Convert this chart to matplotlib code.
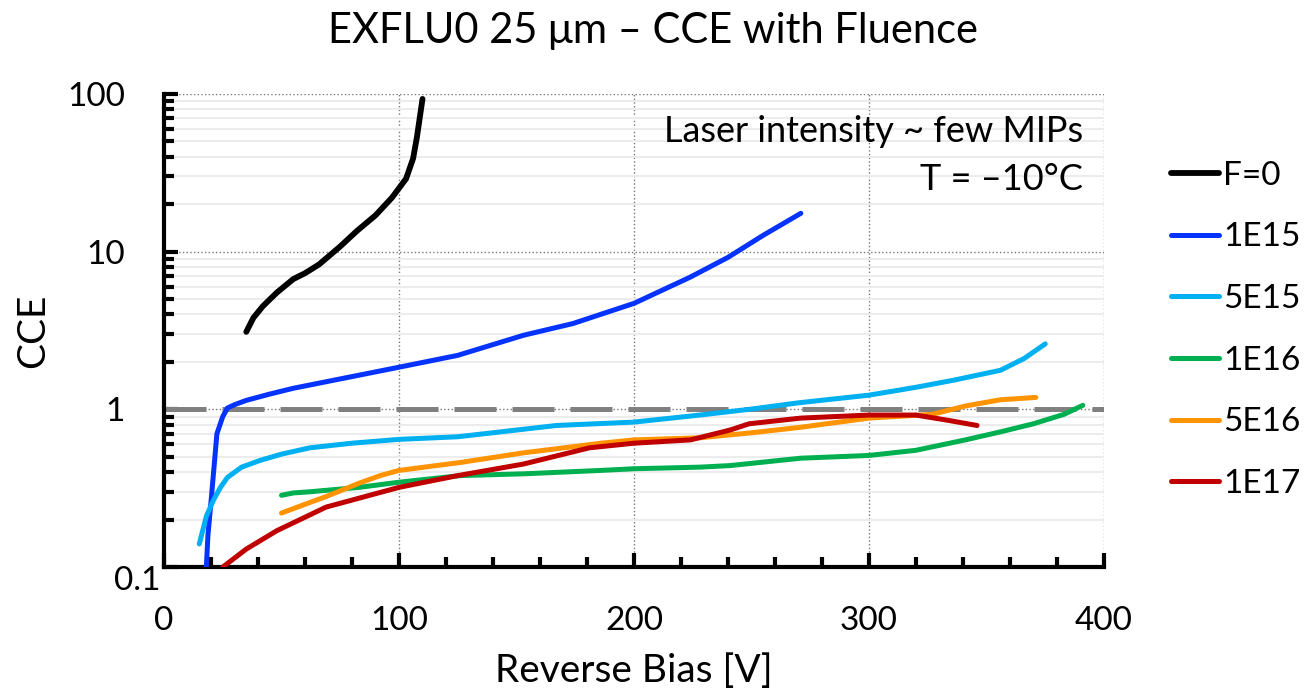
import matplotlib
matplotlib.use("Agg")
import matplotlib.pyplot as plt
import matplotlib.transforms as mtransforms
from matplotlib.ticker import LogLocator, FixedLocator, NullFormatter, MultipleLocator

plt.rcParams['font.family'] = ['Lato', 'DejaVu Sans']

# F=0
v_f0 = [35, 38, 42, 48, 55, 60, 66, 75, 82, 90, 97, 103, 106, 107.6, 110]
cce_f0 = [3.1, 3.8, 4.5, 5.5, 6.7, 7.3, 8.3, 10.8, 13.5, 17, 22, 29, 39, 53, 93]

# 1E15
v_1e15 = [18, 18.7, 20, 22.5, 25, 27, 30, 35, 45, 55, 76, 100, 125, 153, 174,
          200, 224, 240, 255, 271]
cce_1e15 = [0.1, 0.16, 0.26, 0.7, 0.9, 1.02, 1.07, 1.14, 1.25, 1.36, 1.57, 1.85,
            2.2, 2.95, 3.5, 4.7, 6.9, 9.2, 12.7, 17.5]

# 5E15
v_5e15 = [15, 18, 21, 24, 27, 33, 41, 50, 62, 80, 100, 125, 167, 200, 228, 249,
          270, 300, 320, 336, 356, 366, 375]
cce_5e15 = [0.14, 0.21, 0.265, 0.32, 0.37, 0.43, 0.475, 0.52, 0.57, 0.61, 0.645,
            0.67, 0.79, 0.83, 0.92, 1.0, 1.1, 1.23, 1.38, 1.53, 1.77, 2.1, 2.6]

# 1E16
v_1e16 = [50, 55, 62, 83, 100, 126, 153, 186, 200, 228, 241, 271, 300, 320, 341,
          356, 370, 383, 391]
cce_1e16 = [0.285, 0.295, 0.30, 0.32, 0.345, 0.38, 0.39, 0.41, 0.42, 0.43, 0.44,
            0.49, 0.51, 0.55, 0.64, 0.72, 0.81, 0.93, 1.06]

# 5E16
v_5e16 = [50, 60, 69, 83, 92, 100, 126, 153, 186, 200, 228, 250, 271, 300, 327,
          341, 356, 371]
cce_5e16 = [0.22, 0.25, 0.28, 0.34, 0.38, 0.41, 0.46, 0.53, 0.61, 0.64, 0.66,
            0.71, 0.77, 0.88, 0.93, 1.05, 1.15, 1.19]

# 1E17
v_1e17 = [25, 35, 48, 69, 100, 125, 153, 181, 200, 224, 241, 249, 271, 300, 320,
          334, 346]
cce_1e17 = [0.1, 0.13, 0.17, 0.24, 0.32, 0.38, 0.45, 0.57, 0.61, 0.64, 0.74,
            0.81, 0.88, 0.92, 0.92, 0.85, 0.79]

y_ticks = [0.1, 1, 10, 100]
y_tick_labels = ["0.1", "1", "10", "100"]

series = [
    ("F=0", v_f0, cce_f0, "#000000", 4.2),
    ("1E15", v_1e15, cce_1e15, "#0433ff", 3.6),
    ("5E15", v_5e15, cce_5e15, "#00b0f0", 3.6),
    ("1E16", v_1e16, cce_1e16, "#00b050", 3.6),
    ("5E16", v_5e16, cce_5e16, "#ff9300", 3.6),
    ("1E17", v_1e17, cce_1e17, "#c00000", 3.6),
]

fig = plt.figure(figsize=(13.06, 6.96), dpi=100)
ax = fig.add_axes([0.1256, 0.1853, 0.7197, 0.6797])

ax.set_yscale('log')
ax.set_xlim(0, 400)
ax.set_ylim(0.1, 100)

# grille
ax.yaxis.set_minor_locator(LogLocator(base=10, subs=range(2, 10)))
ax.yaxis.set_minor_formatter(NullFormatter())
ax.xaxis.set_major_locator(MultipleLocator(100))
ax.xaxis.set_minor_locator(MultipleLocator(20))
ax.yaxis.set_major_locator(FixedLocator(y_ticks))
# le "0.1" est placé à part (décalé vers l'axe comme sur l'original)
ax.set_yticklabels([""] + y_tick_labels[1:])
ax.grid(True, which='minor', axis='y', color='#ececec', linewidth=1.5, linestyle='-')
ax.grid(True, which='major', axis='both', color='#777777', linewidth=1.0, linestyle=':')
ax.set_axisbelow(True)

# ligne CCE = 1
ax.axhline(1, color='#808080', linewidth=3.6, dashes=(8.4, 3.2), zorder=2)

for nom, v, cce, couleur, lw in series:
    ax.plot(v, cce, color=couleur, linewidth=lw, label=nom,
            solid_capstyle='round', solid_joinstyle='round', zorder=3)

for s in ['top', 'right']:
    ax.spines[s].set_visible(False)
for s in ['left', 'bottom']:
    ax.spines[s].set_linewidth(3)

ax.tick_params(which='major', direction='in', length=10, width=3, labelsize=24, pad=28)
ax.tick_params(which='minor', direction='in', length=7, width=3)
ax.tick_params(axis='x', which='both', top=False)
ax.tick_params(axis='y', which='both', right=False)

trans = mtransforms.blended_transform_factory(ax.transAxes, ax.transData)
offset = mtransforms.ScaledTranslation(0, -10 / 72, fig.dpi_scale_trans)
ax.text(-0.004, y_ticks[0], y_tick_labels[0], transform=trans + offset,
        ha='right', va='center', fontsize=24)

ax.set_xlabel("Reverse Bias [V]", fontsize=28, labelpad=12)
ax.set_ylabel("CCE", fontsize=28)
ax.yaxis.set_label_coords(-0.12, 0.5)

ax.text(0.978, 0.955, "Laser intensity ~ few MIPs\nT = \u201310\u00b0C",
        transform=ax.transAxes, ha='right', va='top', fontsize=26,
        linespacing=1.55)

fig.suptitle("EXFLU0 25 \u03bcm \u2013 CCE with Fluence", x=0.5, y=0.955,
             va='center', fontsize=30)

leg = ax.legend(loc='upper left', bbox_to_anchor=(1.071, 0.859), frameon=False,
                fontsize=24, handlelength=1.45, handletextpad=0.12,
                labelspacing=0.95, borderaxespad=0, borderpad=0)

fig.savefig("out.png", dpi=100)
